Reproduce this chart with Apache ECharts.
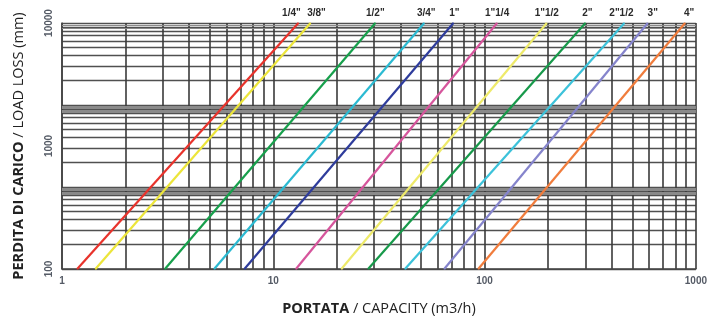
<!DOCTYPE html>
<html>
<head>
<meta charset="utf-8">
<script src="https://cdn.jsdelivr.net/npm/echarts@6/dist/echarts.min.js"></script>
<style>
html,body{margin:0;padding:0;background:#fff;}
#chart{width:710px;height:321px;}
</style>
</head>
<body>
<div id="chart"></div>
<script>
// Pipe sizes (series names / line labels)
const sizes = ['1/4"', '3/8"', '1/2"', '3/4"', '1"', '1"1/4', '1"1/2', '2"', '2"1/2', '3"', '4"'];
// Capacity (m3/h) where each line meets load loss 100 mm
const capacityAt100 = [1.18, 1.44, 3.07, 5.25, 7.3, 12.8, 21.0, 28.1, 42.0, 64.4, 93.3];
// Capacity (m3/h) where each line meets load loss 10000 mm
const capacityAt10000 = [13.15, 15.0, 30.4, 51.8, 71.2, 114.6, 197, 300, 459, 592, 889];
// Load loss range of the lines (mm)
const lossEnds = [100, 10000];
// Axis tick labels
const xTicks = [1, 10, 100, 1000];
const yTicks = [100, 1000, 10000];
// Background log paper (3 cycles) and its extra fine rulings
const paperCycles = [1, 10, 100];
const paperDenseMultiples = [8.25, 8.5, 8.75, 9.25, 9.5, 9.75];
const paperTopMultiples = [8.6, 9.35];

// Styles
const colors = ['#e8332c', '#ece53a', '#17a04c', '#2bbad2', '#2e3c9c', '#d6559c', '#eeea6a', '#17994a', '#3cc2da', '#8584cc', '#f07c3c'];
const labelNudge = [-7, 6, 0, 2, 1, 0, 0, 2, -3, 5, 4];

const series = sizes.map((name, i) => ({
  name: name,
  type: 'line',
  xAxisIndex: 0,
  yAxisIndex: 0,
  symbol: 'circle',
  symbolSize: 1,
  showSymbol: true,
  showAllSymbol: true,
  z: 5,
  lineStyle: { color: colors[i], width: 2.2 },
  itemStyle: { color: colors[i] },
  label: { show: false },
  data: [
    { value: [capacityAt100[i], lossEnds[0]] },
    { value: [capacityAt10000[i], lossEnds[1]],
      label: { show: true, position: 'top', distance: 4, offset: [labelNudge[i], 0], formatter: name,
               color: '#2a2a2a', fontSize: 10, fontWeight: 'bold', fontFamily: 'Liberation Sans' } }
  ]
}));

const fineLines = [];
paperCycles.forEach((c, k) => {
  const mult = k < paperCycles.length - 1 ? paperDenseMultiples : paperTopMultiples;
  mult.forEach(m => fineLines.push({ yAxis: c * m }));
});

series.push({
  name: 'paper',
  type: 'line',
  xAxisIndex: 0,
  yAxisIndex: 1,
  symbol: 'none',
  silent: true,
  z: 1,
  lineStyle: { opacity: 0 },
  data: [[1, 1]],
  markLine: {
    silent: true,
    symbol: 'none',
    label: { show: false },
    lineStyle: { color: '#8a8a8a', width: 1.1, type: 'solid' },
    data: fineLines
  }
});

const chart = echarts.init(document.getElementById('chart'), null, { renderer: 'canvas' });
chart.setOption({
  animation: false,
  backgroundColor: '#fff',
  grid: { left: 62, right: 10, top: 23, bottom: 45, containLabel: false },
  xAxis: [{
    type: 'log',
    logBase: 10,
    min: xTicks[0],
    max: xTicks[xTicks.length - 1],
    name: '{b|PORTATA} / CAPACITY (m3/h)',
    nameLocation: 'middle',
    nameGap: 32,
    nameTextStyle: {
      color: '#222', fontSize: 14.5, fontFamily: 'Open Sans',
      rich: { b: { fontWeight: 'bold', fontSize: 14.5, fontFamily: 'Open Sans', color: '#222' } }
    },
    axisLine: { show: true, lineStyle: { color: '#444', width: 1.5 } },
    axisTick: { show: false },
    axisLabel: { color: '#555b66', fontSize: 10, fontWeight: 'bold', fontFamily: 'Liberation Sans', margin: 7,
                 formatter: v => String(v) },
    splitLine: { show: true, lineStyle: { color: '#3a3a3a', width: 1.6 } },
    minorTick: { show: false, splitNumber: 9 },
    minorSplitLine: { show: true, lineStyle: { color: '#3a3a3a', width: 1.6 } }
  }],
  yAxis: [{
    type: 'log',
    logBase: 10,
    min: yTicks[0],
    max: yTicks[yTicks.length - 1],
    name: '{b|PERDITA DI CARICO} / LOAD LOSS (mm)',
    nameLocation: 'middle',
    nameRotate: 90,
    nameGap: 36,
    nameTextStyle: {
      color: '#222', fontSize: 14.5, fontFamily: 'Open Sans',
      rich: { b: { fontWeight: 'bold', fontSize: 14.5, fontFamily: 'Open Sans', color: '#222' } }
    },
    axisLine: { show: true, lineStyle: { color: '#444', width: 1.5 } },
    axisTick: { show: false },
    axisLabel: { color: '#555b66', fontSize: 10, fontWeight: 'bold', fontFamily: 'Liberation Sans', rotate: 90, margin: 8,
                 formatter: v => String(v) },
    splitLine: { show: false }
  }, {
    type: 'log',
    logBase: 10,
    min: paperCycles[0],
    max: paperCycles[paperCycles.length - 1] * 10,
    position: 'right',
    axisLine: { show: false },
    axisTick: { show: false },
    axisLabel: { show: false },
    splitLine: { show: true, lineStyle: { color: '#505050', width: 1.4 } },
    minorTick: { show: false, splitNumber: 9 },
    minorSplitLine: { show: true, lineStyle: { color: '#505050', width: 1.4 } }
  }],
  series: series
});
</script>
</body>
</html>
